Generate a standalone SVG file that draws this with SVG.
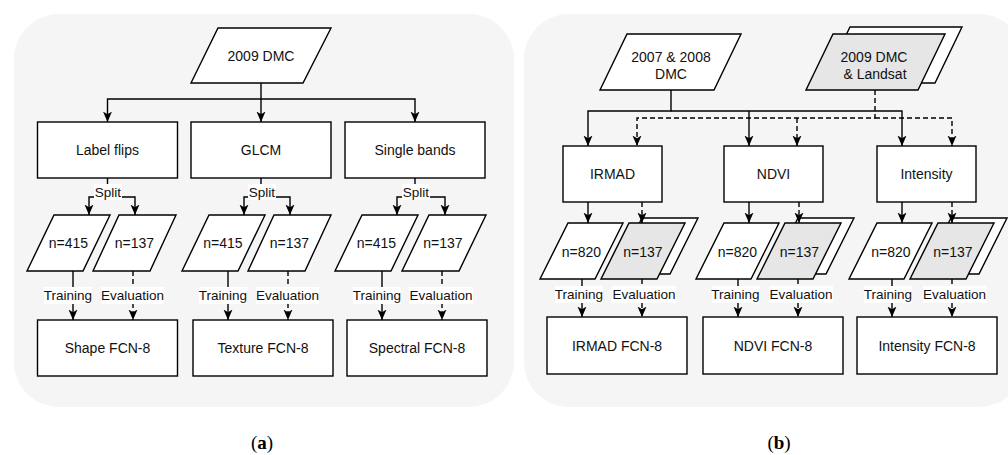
<svg xmlns="http://www.w3.org/2000/svg" width="1008" height="455" viewBox="0 0 1008 455">
  <style>
    .panel { fill: #f5f5f5; stroke: none; }
    .node { fill: #ffffff; stroke: #000000; stroke-width: 1.4; }
    .gray { fill: #e6e6e6; stroke: #000000; stroke-width: 1.4; }
    .t { font-family: "Liberation Sans", Arial, sans-serif; font-size: 14px; fill: #111111; text-anchor: middle; dominant-baseline: central; }
    .lt { font-family: "Liberation Sans", Arial, sans-serif; font-size: 13.5px; fill: #111111; text-anchor: middle; dominant-baseline: central; }
    .lbg { fill: #ffffff; stroke: none; }
    .c { fill: none; stroke: #000000; stroke-width: 1.4; marker-end: url(#arrow); }
    .d { fill: none; stroke: #000000; stroke-width: 1.4; stroke-dasharray: 5 3; marker-end: url(#arrow); }
    .cap { font-family: "Liberation Serif", "Times New Roman", serif; font-size: 19px; fill: #000000; text-anchor: middle; }
  </style>
  <defs>
    <marker id="arrow" markerUnits="userSpaceOnUse" markerWidth="11" markerHeight="11" viewBox="0 0 11 11" refX="10.5" refY="5.5" orient="auto">
      <path d="M0,1 L10.5,5.5 L0,10 L2.8,5.5 z" fill="#000000"/>
    </marker>
  </defs>

  <!-- panel backgrounds -->
  <rect class="panel" x="14" y="14" width="500" height="393" rx="45" ry="45"/>
  <rect class="panel" x="524" y="14" width="500" height="393" rx="45" ry="45"/>

  <!-- ===== Panel (a) ===== -->
  <g id="a-source">
    <polygon class="node" points="218,28 331,28 303,83 191,83"/>
    <text class="t" x="261" y="56">2009 DMC</text>
  </g>
  <g id="a-label-flips">
    <rect class="node" x="37.5" y="122" width="140" height="56"/>
    <text class="t" x="107.5" y="150">Label flips</text>
  </g>
  <g id="a-glcm">
    <rect class="node" x="191" y="122" width="140" height="56"/>
    <text class="t" x="261" y="150">GLCM</text>
  </g>
  <g id="a-single-bands">
    <rect class="node" x="345" y="122" width="140" height="56"/>
    <text class="t" x="415" y="150">Single bands</text>
  </g>
  <g id="a-train-1">
    <polygon class="node" points="54,215 110,215 83,271 27,271"/>
    <text class="t" x="68.5" y="243">n=415</text>
  </g>
  <g id="a-eval-1">
    <polygon class="node" points="119,215 176,215 150,271 93,271"/>
    <text class="t" x="134.5" y="243">n=137</text>
  </g>
  <g id="a-train-2">
    <polygon class="node" points="209,215 265,215 238,271 182,271"/>
    <text class="t" x="223" y="243">n=415</text>
  </g>
  <g id="a-eval-2">
    <polygon class="node" points="274,215 331,215 305,271 248,271"/>
    <text class="t" x="289.5" y="243">n=137</text>
  </g>
  <g id="a-train-3">
    <polygon class="node" points="362,215 418,215 391,271 335,271"/>
    <text class="t" x="376.5" y="243">n=415</text>
  </g>
  <g id="a-eval-3">
    <polygon class="node" points="429,215 486,215 459,271 402,271"/>
    <text class="t" x="443" y="243">n=137</text>
  </g>
  <g id="a-shape-fcn">
    <rect class="node" x="37.5" y="320" width="140" height="56"/>
    <text class="t" x="107.5" y="348">Shape FCN-8</text>
  </g>
  <g id="a-texture-fcn">
    <rect class="node" x="193" y="320" width="140" height="56"/>
    <text class="t" x="263" y="348">Texture FCN-8</text>
  </g>
  <g id="a-spectral-fcn">
    <rect class="node" x="347" y="320" width="140" height="56"/>
    <text class="t" x="417" y="348">Spectral FCN-8</text>
  </g>

  <!-- ===== Panel (b) ===== -->
  <g id="b-source-old">
    <polygon class="node" points="627,34 741,34 714,90 600,90"/>
    <text class="t" x="671" y="57">2007 &amp; 2008</text>
    <text class="t" x="671" y="74">DMC</text>
  </g>
  <g id="b-source-new">
    <polygon class="node" points="850,27 962,27 935,83 823,83"/>
    <polygon class="gray" points="833,34 945,34 918,90 806,90"/>
    <text class="t" x="874" y="57">2009 DMC</text>
    <text class="t" x="875" y="74">&amp; Landsat</text>
  </g>
  <g id="b-irmad">
    <rect class="node" x="563" y="146" width="99" height="56"/>
    <text class="t" x="612.5" y="174">IRMAD</text>
  </g>
  <g id="b-ndvi">
    <rect class="node" x="724" y="146" width="99" height="56"/>
    <text class="t" x="773.5" y="174">NDVI</text>
  </g>
  <g id="b-intensity">
    <rect class="node" x="877" y="146" width="99" height="56"/>
    <text class="t" x="926.5" y="174">Intensity</text>
  </g>
  <g id="b-train-1">
    <polygon class="node" points="568,223 623,223 595,279 540,279"/>
    <text class="t" x="581.5" y="252">n=820</text>
  </g>
  <g id="b-eval-1">
    <polygon class="node" points="642,218 698,218 670,274 614,274"/>
    <polygon class="gray" points="629,223 685,223 657,279 601,279"/>
    <text class="t" x="643" y="252">n=137</text>
  </g>
  <g id="b-train-2">
    <polygon class="node" points="724,223 779,223 751,279 696,279"/>
    <text class="t" x="737.5" y="252">n=820</text>
  </g>
  <g id="b-eval-2">
    <polygon class="node" points="798,218 854,218 826,274 770,274"/>
    <polygon class="gray" points="785,223 841,223 813,279 757,279"/>
    <text class="t" x="799.5" y="252">n=137</text>
  </g>
  <g id="b-train-3">
    <polygon class="node" points="877,223 932,223 904,279 849,279"/>
    <text class="t" x="891" y="252">n=820</text>
  </g>
  <g id="b-eval-3">
    <polygon class="node" points="951,218 1007,218 979,274 923,274"/>
    <polygon class="gray" points="938,223 994,223 966,279 910,279"/>
    <text class="t" x="953" y="252">n=137</text>
  </g>
  <g id="b-irmad-fcn">
    <rect class="node" x="547" y="317" width="140" height="57"/>
    <text class="t" x="617" y="346">IRMAD FCN-8</text>
  </g>
  <g id="b-ndvi-fcn">
    <rect class="node" x="703" y="317" width="140" height="57"/>
    <text class="t" x="773" y="346">NDVI FCN-8</text>
  </g>
  <g id="b-intensity-fcn">
    <rect class="node" x="857" y="317" width="140" height="57"/>
    <text class="t" x="927" y="346">Intensity FCN-8</text>
  </g>

  <!-- ===== Connectors ===== -->
  <g id="connectors">
    <!-- (a) fan-out from the source -->
    <path class="c" d="M261,83 V122"/>
    <path class="c" d="M261,99 H107.5 V122"/>
    <path class="c" d="M261,99 H415 V122"/>
    <!-- (a) splits -->
    <path class="c" d="M107.5,178 V197 H89 V215"/>
    <path class="c" d="M107.5,197 H135 V215"/>
    <path class="c" d="M261,178 V197 H244 V215"/>
    <path class="c" d="M261,197 H290 V215"/>
    <path class="c" d="M415,178 V197 H397 V215"/>
    <path class="c" d="M415,197 H445 V215"/>
    <!-- (a) training / evaluation -->
    <path class="c" d="M73,271 V320"/>
    <path class="d" d="M133,271 V320"/>
    <path class="c" d="M228,271 V320"/>
    <path class="d" d="M288,271 V320"/>
    <path class="c" d="M382,271 V320"/>
    <path class="d" d="M442,271 V320"/>

    <!-- (b) fan-out from both sources -->
    <path class="c" d="M671,90 V111 H588 V146"/>
    <path class="c" d="M671,111 H902 V146"/>
    <path class="c" d="M749,111 V146"/>
    <path class="d" d="M875,90 V118 H637 V146"/>
    <path class="d" d="M875,118 H952 V146"/>
    <path class="d" d="M797,118 V146"/>
    <!-- (b) boxes to data sets -->
    <path class="c" d="M588,202 V223"/>
    <path class="d" d="M642,202 V223"/>
    <path class="c" d="M749,202 V223"/>
    <path class="d" d="M799,202 V223"/>
    <path class="c" d="M902,202 V223"/>
    <path class="d" d="M952,202 V223"/>
    <!-- (b) training / evaluation -->
    <path class="c" d="M582,279 V317"/>
    <path class="d" d="M642,279 V317"/>
    <path class="c" d="M738,279 V317"/>
    <path class="d" d="M798,279 V317"/>
    <path class="c" d="M892,279 V317"/>
    <path class="d" d="M952,279 V317"/>

    <!-- edge labels -->
    <rect class="lbg" x="94" y="184" width="28" height="16"/>
    <text class="lt" x="108" y="192">Split</text>
    <rect class="lbg" x="248" y="184" width="28" height="16"/>
    <text class="lt" x="262" y="192">Split</text>
    <rect class="lbg" x="402" y="184" width="28" height="16"/>
    <text class="lt" x="416" y="192">Split</text>

    <rect class="lbg" x="44" y="287" width="48" height="17"/>
    <text class="lt" x="68" y="295.5">Training</text>
    <rect class="lbg" x="101" y="287" width="63" height="17"/>
    <text class="lt" x="132.5" y="295.5">Evaluation</text>
    <rect class="lbg" x="199" y="287" width="48" height="17"/>
    <text class="lt" x="223" y="295.5">Training</text>
    <rect class="lbg" x="256" y="287" width="63" height="17"/>
    <text class="lt" x="287.5" y="295.5">Evaluation</text>
    <rect class="lbg" x="353" y="287" width="48" height="17"/>
    <text class="lt" x="377" y="295.5">Training</text>
    <rect class="lbg" x="409" y="287" width="64" height="17"/>
    <text class="lt" x="441" y="295.5">Evaluation</text>

    <rect class="lbg" x="555" y="286" width="48" height="17"/>
    <text class="lt" x="579" y="294.5">Training</text>
    <rect class="lbg" x="612" y="286" width="64" height="17"/>
    <text class="lt" x="644" y="294.5">Evaluation</text>
    <rect class="lbg" x="712" y="286" width="48" height="17"/>
    <text class="lt" x="735.5" y="294.5">Training</text>
    <rect class="lbg" x="769" y="286" width="64" height="17"/>
    <text class="lt" x="801" y="294.5">Evaluation</text>
    <rect class="lbg" x="864" y="286" width="48" height="17"/>
    <text class="lt" x="888" y="294.5">Training</text>
    <rect class="lbg" x="923" y="286" width="64" height="17"/>
    <text class="lt" x="954.5" y="294.5">Evaluation</text>
  </g>

  <!-- captions -->
  <text class="cap" x="262" y="449">(<tspan font-weight="bold">a</tspan>)</text>
  <text class="cap" x="779" y="449">(<tspan font-weight="bold">b</tspan>)</text>
</svg>
